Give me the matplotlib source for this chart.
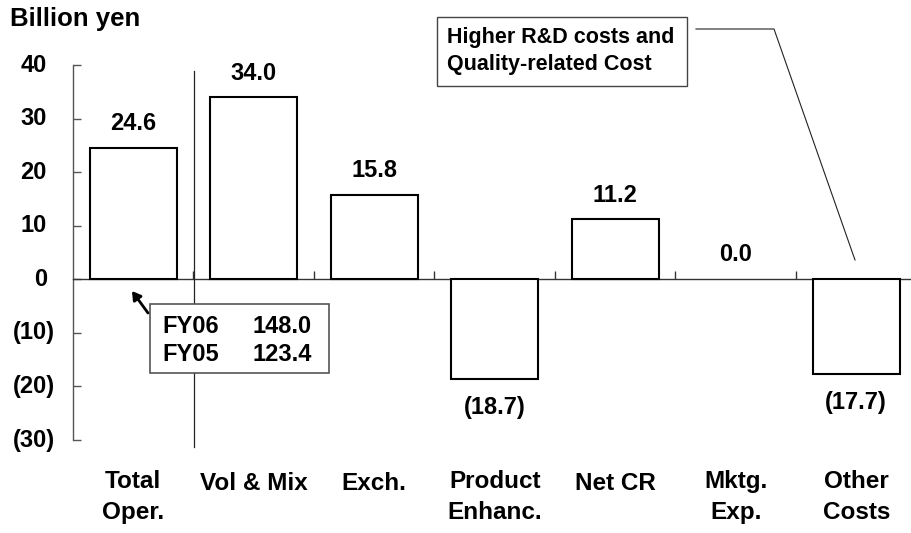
import matplotlib
matplotlib.use("Agg")
import matplotlib.pyplot as plt
from matplotlib.patches import Rectangle, FancyArrowPatch
from matplotlib.lines import Line2D
import matplotlib.transforms as mtransforms

plt.rcParams['font.family'] = ['Liberation Sans', 'DejaVu Sans']
plt.rcParams['font.weight'] = 'bold'

categories = ["Total\nOper.", "Vol & Mix", "Exch.", "Product\nEnhanc.", "Net CR", "Mktg.\nExp.", "Other\nCosts"]
values = [24.6, 34.0, 15.8, -18.7, 11.2, 0.0, -17.7]
yticks = [-30, -20, -10, 0, 10, 20, 30, 40]
ytick_labels = ["(30)", "(20)", "(10)", "0", "10", "20", "30", "40"]
title = "Billion yen"
note_lines = ["Higher R&D costs and", "Quality-related Cost"]
fy_labels = ["FY06", "FY05"]
fy_values = ["148.0", "123.4"]

W, H = 912, 533
fig = plt.figure(figsize=(W / 100, H / 100), dpi=100)

def px(x, y):
    return (x / W, 1 - y / H)

ax = fig.add_axes([73 / W, 1 - 440 / H, 843.5 / W, 375 / H])
ax.set_xlim(-0.5, len(categories) - 0.5)
ax.set_ylim(-30, 40)

for s in ['top', 'right']:
    ax.spines[s].set_visible(False)
ax.spines['bottom'].set_position(('data', 0))
ax.spines['bottom'].set_color('#333333')
ax.spines['bottom'].set_linewidth(1.0)
ax.spines['left'].set_color('#555555')
ax.spines['left'].set_linewidth(1.0)

ax.set_yticks(yticks)
ax.set_yticklabels([])
ax.tick_params(axis='y', direction='in', length=5.8, width=1, color='#555555')
ax.set_xticks([i + 0.5 for i in range(len(categories) - 1)])
ax.set_xticklabels([])
ax.tick_params(axis='x', direction='in', length=5.5, width=1, color='#333333')

lws = [1.5 if v != 0 else 0 for v in values]
ax.bar(range(len(values)), values, width=0.72, color='white', edgecolor='black',
       linewidth=lws, zorder=3)

# y tick labels (accounting style: positives padded for ")")
ytr = ax.get_yaxis_transform()
for v, lab in zip(yticks, ytick_labels):
    off = -26 if v >= 0 else -18
    tr = mtransforms.offset_copy(ytr, fig=fig, x=off, y=0, units='dots')
    ax.text(0, v, lab, transform=tr, ha='right', va='center', fontsize=17,
            fontweight='bold', clip_on=False)

# value labels
for i, v in enumerate(values):
    if v > 0:
        txt, dy = f"{v:.1f}", 24
    elif v < 0:
        txt, dy = f"({abs(v):.1f})", -28
    else:
        txt, dy = f"{v:.1f}", 25
    tr = mtransforms.offset_copy(ax.transData, fig=fig, x=0, y=dy, units='dots')
    ax.text(i, v, txt, transform=tr, ha='center', va='center', fontsize=17,
            fontweight='bold', clip_on=False)

# category labels
btr = mtransforms.blended_transform_factory(ax.transData, fig.transFigure)
for i, c in enumerate(categories):
    if "\n" in c:
        ax.text(i, 1 - 497 / H, c, transform=btr, ha='center', va='center', fontsize=17.5,
                fontweight='bold', linespacing=1.45, clip_on=False)
    else:
        ax.text(i, 1 - 483 / H, c, transform=btr, ha='center', va='center', fontsize=17.5,
                fontweight='bold', clip_on=False)

# title
fig.text(*px(10, 19), title, ha='left', va='center', fontsize=18.5, fontweight='bold')

# divider line between total and components
fig.add_artist(Line2D([px(194, 71)[0], px(194, 447)[0]], [px(194, 71)[1], px(194, 447)[1]],
                      color='#222222', lw=0.9, transform=fig.transFigure))

# FY box
x0, y0 = px(150, 373)
x1, y1 = px(329, 304)
fig.add_artist(Rectangle((x0, y0), x1 - x0, y1 - y0, transform=fig.transFigure,
                         facecolor='white', edgecolor='#555555', lw=1.2, zorder=5))
for row, (lab, val) in enumerate(zip(fy_labels, fy_values)):
    yy = 326.5 + row * 28
    fig.text(*px(162, yy), lab, ha='left', va='center', fontsize=17, fontweight='bold', zorder=6)
    fig.text(*px(253, yy), val, ha='left', va='center', fontsize=17, fontweight='bold', zorder=6)
fig.add_artist(FancyArrowPatch(px(148, 313), px(132, 291), transform=fig.transFigure,
                               arrowstyle='-|>,head_length=5,head_width=3', color='black',
                               lw=2, shrinkA=0, shrinkB=0, zorder=6))

# note box
x0, y0 = px(437, 86)
x1, y1 = px(687, 17)
fig.add_artist(Rectangle((x0, y0), x1 - x0, y1 - y0, transform=fig.transFigure,
                         facecolor='white', edgecolor='#444444', lw=1.0, zorder=5))
for row, line in enumerate(note_lines):
    fig.text(*px(447, 38 + row * 26), line, ha='left', va='center', fontsize=15.5,
             fontweight='bold', zorder=6)
lx = [696, 774, 855]
ly = [29, 29, 260]
fig.add_artist(Line2D([x / W for x in lx], [1 - y / H for y in ly], color='#222222', lw=0.8,
                      transform=fig.transFigure))

fig.savefig("out.png", dpi=100)
